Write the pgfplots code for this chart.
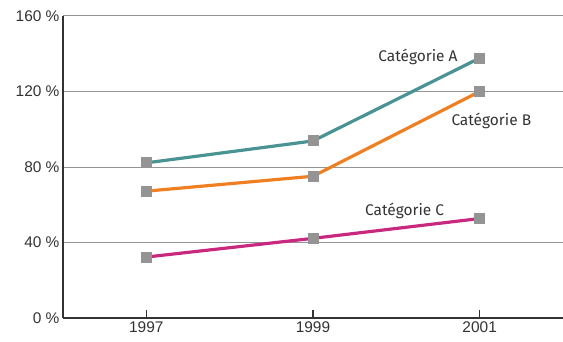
\documentclass[border=0pt]{standalone}
\usepackage{fontspec}
\setmainfont{Liberation Sans}
\newfontfamily\fira{Fira Sans}
\usepackage{pgfplots}
\pgfplotsset{compat=1.18}
\definecolor{catA}{HTML}{4A9393}
\definecolor{catB}{HTML}{F07F22}
\definecolor{catC}{HTML}{C9287F}
\definecolor{mk}{HTML}{949494}
\definecolor{txt}{HTML}{333333}
\begin{document}
\begin{tikzpicture}
\useasboundingbox (-63bp,-24bp) rectangle (500bp,318bp);
\begin{axis}[
  scale only axis,
  width=500bp, height=302bp,
  xmin=-0.5, xmax=2.5, ymin=0, ymax=160,
  axis x line*=bottom, axis y line*=left,
  axis line style={txt, line width=1.6pt, -},
  xtick={0,1,2}, xticklabels={1997,1999,2001},
  ytick={0,40,80,120,160},
  yticklabels={0 \%,40 \%,80 \%,120 \%,160 \%},
  ytick style={draw=none},
  xtick style={txt, line width=1.6pt},
  tick align=inside,
  major tick length=8bp,
  ymajorgrids,
  grid style={draw=black!42, line width=1pt},
  tick label style={font=\fontsize{15.5}{17}\selectfont, text=txt},
  /pgf/number format/assume math mode=true,
  clip=false,
  every axis plot/.append style={line width=3.2pt, mark=square*, mark size=5bp,
     mark options={solid, fill=mk, draw=mk, line width=0pt}},
]
\addplot[catA] coordinates {(0,82.2) (1,93.8) (2,137.7)};
\addplot[catB] coordinates {(0,67.2) (1,75.1) (2,120.0)};
\addplot[catC] coordinates {(0,32.3) (1,42.2) (2,52.7)};
\node[font=\fira\fontsize{15.5}{17}\selectfont, text=txt] at (axis cs:1.63,138.3) {Catégorie A};
\node[font=\fira\fontsize{15.5}{17}\selectfont, text=txt] at (axis cs:2.07,104.4) {Catégorie B};
\node[font=\fira\fontsize{15.5}{17}\selectfont, text=txt] at (axis cs:1.55,56.6) {Catégorie C};
\end{axis}
\end{tikzpicture}
\end{document}
